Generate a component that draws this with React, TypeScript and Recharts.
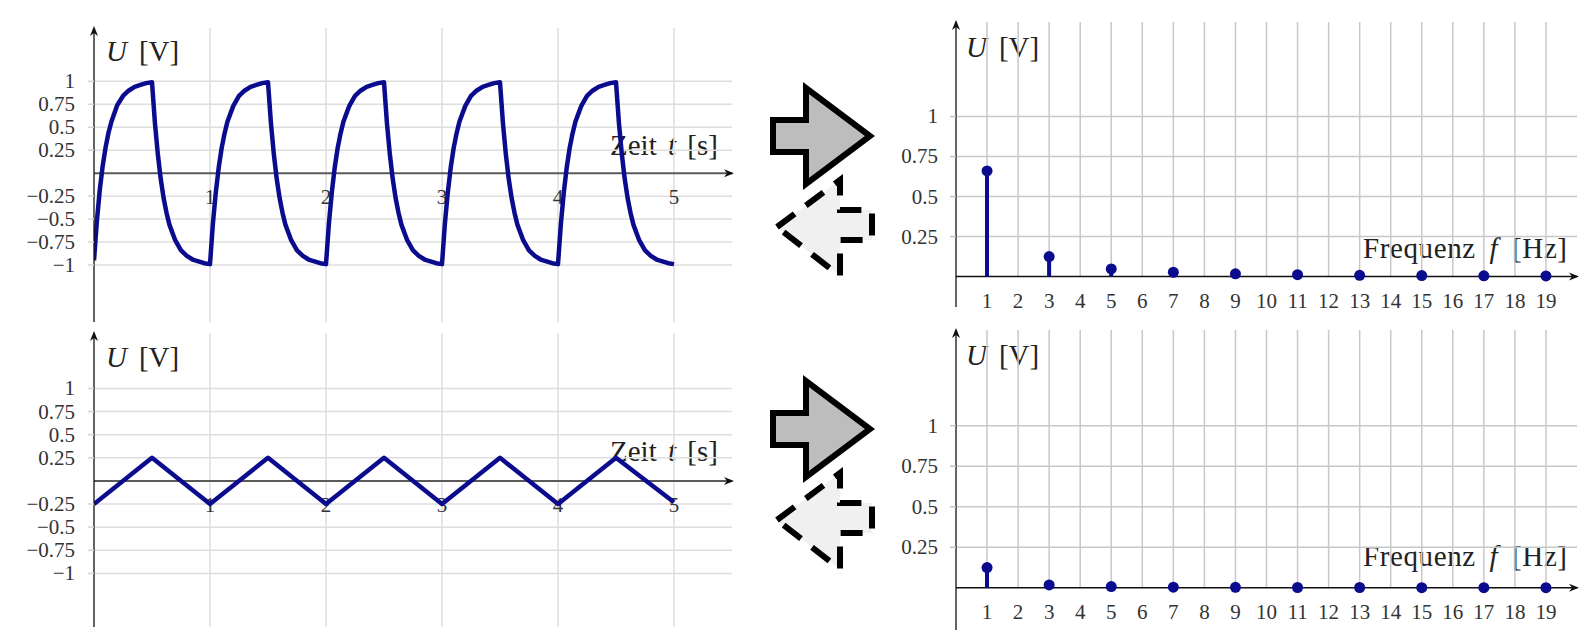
import React from "react";
import {
  ComposedChart,
  Line,
  Bar,
  Scatter,
  XAxis,
  YAxis,
  ReferenceLine,
  ReferenceDot,
} from "recharts";

// gefilterte Rechteckspannung (oben links)
const squareTime = [
  0, 0.025, 0.05, 0.075, 0.1, 0.125, 0.15, 0.2, 0.25, 0.3, 0.35, 0.4, 0.45,
  0.5, 0.525, 0.55, 0.575, 0.6, 0.625, 0.65, 0.7, 0.75, 0.8, 0.85, 0.9, 0.95,
  1, 1.025, 1.05, 1.075, 1.1, 1.125, 1.15, 1.2, 1.25, 1.3, 1.35, 1.4, 1.45,
  1.5, 1.525, 1.55, 1.575, 1.6, 1.625, 1.65, 1.7, 1.75, 1.8, 1.85, 1.9, 1.95,
  2, 2.025, 2.05, 2.075, 2.1, 2.125, 2.15, 2.2, 2.25, 2.3, 2.35, 2.4, 2.45,
  2.5, 2.525, 2.55, 2.575, 2.6, 2.625, 2.65, 2.7, 2.75, 2.8, 2.85, 2.9, 2.95,
  3, 3.025, 3.05, 3.075, 3.1, 3.125, 3.15, 3.2, 3.25, 3.3, 3.35, 3.4, 3.45,
  3.5, 3.525, 3.55, 3.575, 3.6, 3.625, 3.65, 3.7, 3.75, 3.8, 3.85, 3.9, 3.95,
  4, 4.025, 4.05, 4.075, 4.1, 4.125, 4.15, 4.2, 4.25, 4.3, 4.35, 4.4, 4.45,
  4.5, 4.525, 4.55, 4.575, 4.6, 4.625, 4.65, 4.7, 4.75, 4.8, 4.85, 4.9, 4.95,
  5,
];
const squareVolt = [
  -0.95, -0.52, -0.18, 0.08, 0.28, 0.44, 0.56, 0.74, 0.84, 0.9, 0.94, 0.96, 0.98,
  0.99, 0.55, 0.21, -0.06, -0.27, -0.43, -0.56, -0.73, -0.84, -0.9, -0.94, -0.96, -0.98,
  -0.99, -0.55, -0.21, 0.06, 0.27, 0.43, 0.56, 0.73, 0.84, 0.9, 0.94, 0.96, 0.98,
  0.99, 0.55, 0.21, -0.06, -0.27, -0.43, -0.56, -0.73, -0.84, -0.9, -0.94, -0.96, -0.98,
  -0.99, -0.55, -0.21, 0.06, 0.27, 0.43, 0.56, 0.73, 0.84, 0.9, 0.94, 0.96, 0.98,
  0.99, 0.55, 0.21, -0.06, -0.27, -0.43, -0.56, -0.73, -0.84, -0.9, -0.94, -0.96, -0.98,
  -0.99, -0.55, -0.21, 0.06, 0.27, 0.43, 0.56, 0.73, 0.84, 0.9, 0.94, 0.96, 0.98,
  0.99, 0.55, 0.21, -0.06, -0.27, -0.43, -0.56, -0.73, -0.84, -0.9, -0.94, -0.96, -0.98,
  -0.99, -0.55, -0.21, 0.06, 0.27, 0.43, 0.56, 0.73, 0.84, 0.9, 0.94, 0.96, 0.98,
  0.99, 0.55, 0.21, -0.06, -0.27, -0.43, -0.56, -0.73, -0.84, -0.9, -0.94, -0.96, -0.98,
  -0.99,
];

// Dreieckspannung (unten links)
const triTime = [0, 0.5, 1, 1.5, 2, 2.5, 3, 3.5, 4, 4.5, 5];
const triVolt = [-0.25, 0.25, -0.25, 0.25, -0.25, 0.25, -0.25, 0.25, -0.25, 0.25, -0.23];

// Spektren
const freqs = [1, 3, 5, 7, 9, 11, 13, 15, 17, 19];
const squareAmp = [0.66, 0.125, 0.048, 0.027, 0.017, 0.012, 0.008, 0.006, 0.005, 0.004];
const triAmp = [0.125, 0.018, 0.008, 0.004, 0.003, 0.002, 0.002, 0.001, 0.001, 0.001];

const timeTicks = [1, 2, 3, 4, 5];
const voltTicks = [-1, -0.75, -0.5, -0.25, 0.25, 0.5, 0.75, 1];
const freqTicks = [1, 2, 3, 4, 5, 6, 7, 8, 9, 10, 11, 12, 13, 14, 15, 16, 17, 18, 19];
const ampTicks = [0.25, 0.5, 0.75, 1];

const BLUE = "#0b0b8e";
const FONT = "Liberation Serif, Times New Roman, serif";

const fmt = (v: number) => (v < 0 ? "\u2212" + String(-v) : String(v));

const arrowRight = (p: any) => (
  <path
    d={`M${p.cx + 2},${p.cy} L${p.cx - 8},${p.cy - 4} L${p.cx - 5},${p.cy} L${p.cx - 8},${p.cy + 4} Z`}
    fill="#111"
  />
);
const arrowUp = (p: any) => (
  <path
    d={`M${p.cx},${p.cy - 2} L${p.cx - 4},${p.cy + 8} L${p.cx},${p.cy + 5} L${p.cx + 4},${p.cy + 8} Z`}
    fill="#111"
  />
);
const tickText = (label: string) => (p: any) => (
  <text
    x={p.cx}
    y={p.cy + 31}
    textAnchor="middle"
    style={{ fontFamily: FONT, fontSize: 21, fill: "#333" }}
  >
    {label}
  </text>
);
const yTick = (p: any) => (
  <text
    x={p.x}
    y={p.y}
    dy={7}
    textAnchor="end"
    style={{ fontFamily: FONT, fontSize: 21, fill: "#333" }}
  >
    {fmt(p.payload.value)}
  </text>
);

const GRID_Z = -50;

function TimeChart({
  times,
  volts,
  top,
  yDomain,
}: {
  times: number[];
  volts: number[];
  top: number;
  yDomain: [number, number];
}) {
  const data = times.map((t, i) => ({ t, v: volts[i] }));
  return (
    <div style={{ position: "absolute", left: 0, top, fontFamily: FONT }}>
      <ComposedChart width={760} height={327} data={data} margin={{ top: 28, right: 28, bottom: 5, left: 0 }}>
        <XAxis type="number" dataKey="t" domain={[0, 5.5]} allowDataOverflow hide />
        <YAxis
          type="number"
          domain={yDomain}
          allowDataOverflow
          ticks={voltTicks}
          width={94}
          tickSize={6}
          tickMargin={13}
          interval={0}
          axisLine={{ stroke: "#111", strokeWidth: 1.3 }}
          tickLine={{ stroke: "#d6d6d6", strokeWidth: 1.5 }}
          tick={yTick}
        />
        {voltTicks.map((v) => (
          <ReferenceLine key={"h" + v} y={v} stroke="#dedede" strokeWidth={1.5} zIndex={GRID_Z} />
        ))}
        {timeTicks.map((t) => (
          <ReferenceLine key={"v" + t} x={t} stroke="#dedede" strokeWidth={1.5} zIndex={GRID_Z} />
        ))}
        {timeTicks.map((t) => (
          <ReferenceDot key={"l" + t} x={t} y={0} r={0} ifOverflow="visible" zIndex={GRID_Z} shape={tickText(String(t))} />
        ))}
        <ReferenceLine y={0} stroke="#5a5a5a" strokeWidth={2} zIndex={GRID_Z} />
        <ReferenceDot x={5.5} y={0} ifOverflow="visible" shape={arrowRight} />
        <ReferenceDot x={0} y={yDomain[1]} ifOverflow="visible" shape={arrowUp} />
        <Line
          type="linear"
          dataKey="v"
          stroke={BLUE}
          strokeWidth={4.5}
          strokeLinejoin="round"
          dot={false}
          isAnimationActive={false}
        />
      </ComposedChart>
    </div>
  );
}

const stem = (p: any) => (
  <line
    x1={p.x + p.width / 2}
    x2={p.x + p.width / 2}
    y1={p.y}
    y2={p.y + p.height}
    stroke={BLUE}
    strokeWidth={4}
  />
);

function SpectrumChart({
  amps,
  top,
  marginTop,
  marginBottom,
  yDomain,
}: {
  amps: number[];
  top: number;
  marginTop: number;
  marginBottom: number;
  yDomain: [number, number];
}) {
  const data = freqs.map((f, i) => ({ f, a: amps[i] }));
  return (
    <div style={{ position: "absolute", left: 880, top, fontFamily: FONT }}>
      <ComposedChart
        width={708}
        height={327}
        data={data}
        margin={{ top: marginTop, right: 11, bottom: marginBottom, left: 0 }}
      >
        <XAxis type="number" dataKey="f" domain={[0, 20]} allowDataOverflow hide />
        <YAxis
          type="number"
          domain={yDomain}
          allowDataOverflow
          ticks={ampTicks}
          width={76}
          tickSize={6}
          tickMargin={12}
          interval={0}
          axisLine={{ stroke: "#111", strokeWidth: 1.3 }}
          tickLine={{ stroke: "#c4c4c4", strokeWidth: 1.5 }}
          tick={yTick}
        />
        {ampTicks.map((v) => (
          <ReferenceLine key={"h" + v} y={v} stroke="#c8c8c8" strokeWidth={1.5} zIndex={GRID_Z} />
        ))}
        {freqTicks.map((f) => (
          <ReferenceLine
            key={"v" + f}
            segment={[
              { x: f, y: 0 },
              { x: f, y: yDomain[1] },
            ]}
            stroke="#c8c8c8"
            strokeWidth={1.5}
            zIndex={GRID_Z}
          />
        ))}
        {freqTicks.map((f) => (
          <ReferenceDot key={"l" + f} x={f} y={0} r={0} ifOverflow="visible" zIndex={GRID_Z} shape={tickText(String(f))} />
        ))}
        <ReferenceLine y={0} stroke="#111" strokeWidth={1.5} zIndex={GRID_Z} />
        <ReferenceDot x={20} y={0} ifOverflow="visible" shape={arrowRight} />
        <ReferenceDot x={0} y={yDomain[1]} ifOverflow="visible" shape={arrowUp} />
        <Bar dataKey="a" fill={BLUE} barSize={4} shape={stem} isAnimationActive={false} />
        <Scatter
          dataKey="a"
          fill={BLUE}
          isAnimationActive={false}
          shape={(p: any) => <circle cx={p.cx} cy={p.cy} r={5.5} fill={BLUE} />}
        />
      </ComposedChart>
    </div>
  );
}

function Arrows({ dy }: { dy: number }) {
  return (
    <g transform={`translate(0, ${dy})`}>
      <polygon
        points="777,227 840,180 840,210 872,210 872,240 840,240 840,276"
        fill="#f0f0f0"
        stroke="#000"
        strokeWidth={6}
        strokeDasharray="22 14"
      />
      <polygon
        points="773,120 806,120 806,88 870,136 806,184 806,152 773,152"
        fill="#bdbdbd"
        stroke="#000"
        strokeWidth={6}
        strokeLinejoin="miter"
      />
    </g>
  );
}

function Labels({ dy, dyR }: { dy: number; dyR: number }) {
  const t = { fontFamily: FONT, fill: "#222" };
  return (
    <>
      <text x={106} y={61 + dy} fontSize={29} {...t}>
        <tspan fontStyle="italic">U</tspan>
        <tspan dx={12}>[V]</tspan>
      </text>
      <text x={610} y={155 + dy} fontSize={29} wordSpacing={4} {...t}>
        Zeit <tspan fontStyle="italic">t</tspan> [s]
      </text>
      <text x={966} y={57 + dyR} fontSize={29} {...t}>
        <tspan fontStyle="italic">U</tspan>
        <tspan dx={12}>[V]</tspan>
      </text>
      <text x={1363} y={258 + dyR} fontSize={29} wordSpacing={6} letterSpacing={0.6} {...t}>
        Frequenz <tspan fontStyle="italic">f</tspan> [Hz]
      </text>
    </>
  );
}

export default function App() {
  return (
    <div
      style={{
        position: "absolute",
        left: 0,
        top: 0,
        width: 1588,
        height: 632,
        background: "#fff",
        overflow: "hidden",
      }}
    >
      <svg width={1588} height={632} style={{ position: "absolute", left: 0, top: 0 }}>
        <Arrows dy={0} />
        <Arrows dy={293} />
        <Labels dy={0} dyR={0} />
        <Labels dy={306} dyR={308} />
      </svg>
      <TimeChart times={squareTime} volts={squareVolt} top={0} yDomain={[-1.62, 1.58]} />
      <TimeChart times={triTime} volts={triVolt} top={305} yDomain={[-1.58, 1.6]} />
      <SpectrumChart amps={squareAmp} top={0} marginTop={22} marginBottom={20} yDomain={[-0.19, 1.59]} />
      <SpectrumChart amps={triAmp} top={305} marginTop={25} marginBottom={2} yDomain={[-0.26, 1.59]} />
    </div>
  );
}
